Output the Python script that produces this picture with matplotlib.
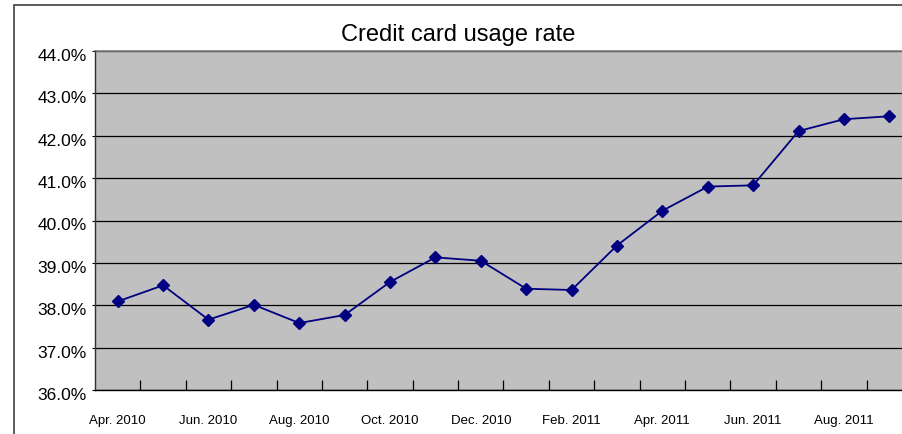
import matplotlib
matplotlib.use('Agg')
import matplotlib.pyplot as plt
import matplotlib.transforms as mtransforms
from matplotlib.patches import Rectangle
from matplotlib.ticker import FixedLocator, FuncFormatter

plt.rcParams['font.family'] = ['Liberation Sans', 'DejaVu Sans']

months = ['Apr. 2010', 'May. 2010', 'Jun. 2010', 'Jul. 2010', 'Aug. 2010', 'Sep. 2010',
          'Oct. 2010', 'Nov. 2010', 'Dec. 2010', 'Jan. 2011', 'Feb. 2011', 'Mar. 2011',
          'Apr. 2011', 'May. 2011', 'Jun. 2011', 'Jul. 2011', 'Aug. 2011', 'Sep. 2011']
usage = [38.09, 38.47, 37.66, 38.01, 37.58, 37.77, 38.55, 39.13, 39.05,
         38.39, 38.36, 39.41, 40.23, 40.80, 40.83, 42.11, 42.39, 42.46]
y_ticks = [36, 37, 38, 39, 40, 41, 42, 43, 44]

W, H = 902, 435
fig = plt.figure(figsize=(W / 100, H / 100), dpi=100)

# outer chart frame (cropped at right and bottom)
fig.patches.append(Rectangle((14 / W, -0.1), 1.2, 1.1 - 6 / H, transform=fig.transFigure,
                             facecolor='white', edgecolor='#404040', linewidth=1.2, zorder=-10))

ax = fig.add_axes([95 / W, 44 / H, 817 / W, 339 / H])
ax.set_facecolor('#c0c0c0')

x = list(range(len(months)))
ax.plot(x, usage, color='#000080', linewidth=1.3, marker='D', markersize=6,
        markerfacecolor='#000080', markeredgecolor='#000080', zorder=3)

ax.set_xlim(-0.5, len(months) - 0.5)
ax.set_ylim(36, 44)

ax.yaxis.set_major_locator(FixedLocator(y_ticks))
ax.yaxis.set_major_formatter(FuncFormatter(lambda v, p: '%.1f%%' % v))
ax.tick_params(axis='y', length=2, width=0.8, labelsize=12.5, pad=4, colors='black')
ax.grid(axis='y', color='black', linewidth=0.9)
shift = mtransforms.ScaledTranslation(0, -3 / 100, fig.dpi_scale_trans)
for lbl in ax.get_yticklabels():
    lbl.set_transform(lbl.get_transform() + shift)

ax.set_xticks(x[::2])
ax.set_xticklabels(months[::2])
ax.tick_params(axis='x', which='major', length=0, labelsize=9.5, pad=17)
ax.set_xticks([i + 0.5 for i in range(len(months) - 1)], minor=True)
ax.tick_params(axis='x', which='minor', direction='in', length=7, width=0.9, color='black')

for s in ['top', 'right']:
    ax.spines[s].set_visible(False)
ax.spines['left'].set_color('#303030')
ax.spines['bottom'].set_color('black')
ax.spines['left'].set_linewidth(1.0)
ax.spines['bottom'].set_linewidth(1.0)
ax.axhline(44, color='#808080', linewidth=1.2, clip_on=False)

fig.text(458 / W, 1 - 35 / H, 'Credit card usage rate', ha='center', va='center', fontsize=17)

fig.savefig('out.png', dpi=100)
